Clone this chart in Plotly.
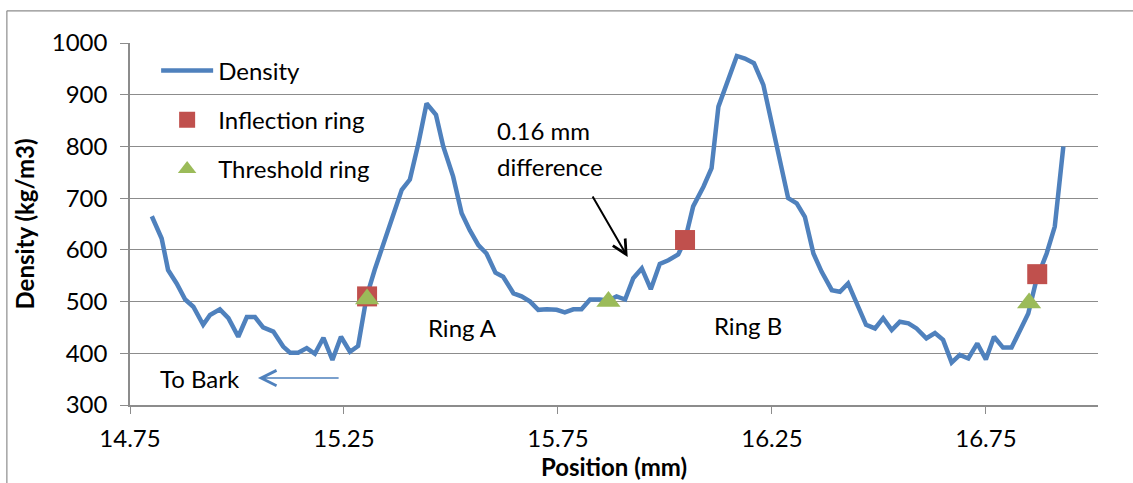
import plotly.graph_objects as go

# Density profile
position_mm = [
    14.801, 14.824, 14.839, 14.859, 14.879, 14.898, 14.921, 14.937, 14.960, 14.980,
    15.003, 15.023, 15.042, 15.061, 15.085, 15.108, 15.124, 15.143, 15.163, 15.182,
    15.202, 15.223, 15.243, 15.264, 15.283, 15.303, 15.322, 15.342, 15.365, 15.385,
    15.404, 15.424, 15.443, 15.465, 15.482, 15.505, 15.525, 15.544, 15.564, 15.583,
    15.604, 15.622, 15.646, 15.665, 15.685, 15.704, 15.724, 15.747, 15.766, 15.786,
    15.805, 15.825, 15.848, 15.868, 15.887, 15.907, 15.926, 15.946, 15.967, 15.988,
    16.008, 16.031, 16.047, 16.066, 16.090, 16.109, 16.125, 16.144, 16.168, 16.187,
    16.208, 16.230, 16.249, 16.269, 16.288, 16.308, 16.327, 16.347, 16.366, 16.390,
    16.409, 16.428, 16.448, 16.470, 16.491, 16.510, 16.530, 16.549, 16.569, 16.588,
    16.611, 16.631, 16.650, 16.670, 16.689, 16.709, 16.730, 16.750, 16.769, 16.790,
    16.810, 16.829, 16.849, 16.868, 16.892, 16.911, 16.931,
]
density = [
    665, 622, 561, 535, 504, 490, 455, 474, 485, 468,
    432, 470, 470, 450, 442, 413, 401, 401, 410, 399,
    430, 387, 432, 403, 414, 510, 562, 613, 671, 716,
    736, 806, 883, 861, 800, 742, 671, 638, 609, 593,
    556, 548, 516, 510, 500, 484, 485, 484, 479, 485,
    485, 504, 504, 502, 510, 504, 545, 564, 524, 573,
    580, 591, 619, 684, 722, 758, 877, 919, 975, 970,
    961, 919, 848, 775, 700, 690, 664, 593, 558, 522,
    519, 535, 497, 455, 448, 468, 445, 461, 458, 448,
    429, 439, 426, 382, 397, 390, 419, 388, 432, 411,
    411, 442, 477, 542, 593, 645, 800,
]

inflection_x = [15.304, 16.047, 16.870]
inflection_y = [510, 619, 553]
threshold_x = [15.304, 15.868, 16.851]
threshold_y = [505, 500, 497]

x_tick_vals = [14.75, 15.25, 15.75, 16.25, 16.75]
x_tick_text = ["14.75", "15.25", "15.75", "16.25", "16.75"]

FONT = "Lato"
BLUE = "#4F81BD"
RED = "#C0504D"
GREEN = "#9BBB59"
GRID = "#8C8C8C"
FS = 24

fig = go.Figure()
fig.add_trace(go.Scatter(
    x=position_mm, y=density, mode="lines", name="Density",
    line=dict(color=BLUE, width=4.5), legendgroup="a",
))
fig.add_trace(go.Scatter(
    x=inflection_x, y=inflection_y, mode="markers", name="Inflection ring",
    marker=dict(symbol="square", size=20, color=RED, line=dict(width=0)),
    legendgroup="b",
))
fig.add_trace(go.Scatter(
    x=threshold_x, y=threshold_y, mode="markers", name="Threshold ring",
    marker=dict(symbol="triangle-up", size=21, color=GREEN, line=dict(width=0)),
    legendgroup="c",
))

fig.update_layout(
    width=1133, height=483,
    margin=dict(l=130, r=35, t=43, b=78),
    paper_bgcolor="white", plot_bgcolor="white",
    font=dict(family=FONT, size=FS, color="black"),
    showlegend=True,
    legend=dict(
        x=0.027, y=0.985, xanchor="left", yanchor="top",
        bgcolor="rgba(0,0,0,0)", font=dict(family=FONT, size=FS),
        tracegroupgap=15, itemwidth=52,
    ),
    xaxis=dict(
        range=[14.75, 17.012], tickmode="array",
        tickvals=x_tick_vals, ticktext=x_tick_text,
        showgrid=False, zeroline=False,
        showline=True, linecolor=GRID, linewidth=1.5,
        ticks="outside", ticklen=7, tickcolor=GRID, tickwidth=1,
        ticklabelstandoff=4,
        title=dict(text="<b>Position (mm)</b>", font=dict(family=FONT, size=FS), standoff=4),
    ),
    yaxis=dict(
        range=[300, 1000], dtick=100, tick0=300,
        showgrid=True, gridcolor=GRID, gridwidth=1.3, zeroline=False,
        showline=True, linecolor=GRID, linewidth=1.5,
        ticks="outside", ticklen=8, tickcolor=GRID, tickwidth=1,
        ticklabelstandoff=8,
        title=dict(text="<b>Density (kg/m3)</b>", font=dict(family=FONT, size=FS), standoff=10),
    ),
)

# text annotations
ann_font = dict(family=FONT, size=FS, color="black")
fig.add_annotation(x=14.914, y=352, text="To Bark", showarrow=False, font=ann_font)
fig.add_annotation(x=15.528, y=449, text="Ring A", showarrow=False, font=ann_font)
fig.add_annotation(x=16.194, y=453, text="Ring B", showarrow=False, font=ann_font)
fig.add_annotation(x=15.603, y=830, text="0.16 mm", showarrow=False, font=ann_font,
                   xanchor="left")
fig.add_annotation(x=15.603, y=762, text="difference", showarrow=False, font=ann_font,
                   xanchor="left")

# arrows
fig.add_annotation(x=15.913, y=586, ax=15.829, ay=706, axref="x", ayref="y",
                   text="", showarrow=True, arrowhead=5, arrowsize=1.4,
                   arrowwidth=2, arrowcolor="black")
fig.add_annotation(x=15.049, y=352, ax=15.241, ay=352, axref="x", ayref="y",
                   text="", showarrow=True, arrowhead=5, arrowsize=2,
                   arrowwidth=1.5, arrowcolor=BLUE)

# outer chart border (left and top visible)
fig.add_shape(type="line", xref="paper", yref="paper",
              x0=-0.1272, x1=-0.1272, y0=-0.5, y1=1.0888,
              line=dict(color="#8C8C8C", width=1.2))
fig.add_shape(type="line", xref="paper", yref="paper",
              x0=-0.1272, x1=1.1, y0=1.0888, y1=1.0888,
              line=dict(color="#8C8C8C", width=1.2))

fig.write_html("out.html")
